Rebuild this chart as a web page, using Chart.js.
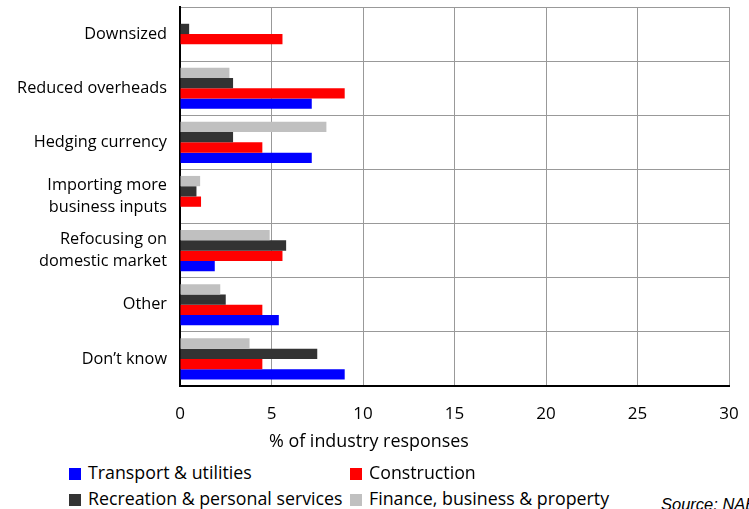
<!DOCTYPE html>
<html>
<head>
<meta charset="utf-8">
<script src="https://cdn.jsdelivr.net/npm/chart.js@4"></script>
<style>
  body { margin: 0; background: #fff; width: 749px; height: 509px; overflow: hidden; position: relative; font-family: "Open Sans", sans-serif; }
  #wrap { position: absolute; left: 0; top: 0; width: 749px; height: 460px; }
  .leg { position: absolute; font-size: 17.8px; color: #000; white-space: nowrap; line-height: 22px; }
  .leg i { display: inline-block; width: 12px; height: 12px; margin-right: 7px; vertical-align: -1px; }
  #xtitle { position: absolute; left: 269px; top: 428px; font-size: 17.9px; line-height: 24px; color: #000; white-space: nowrap; }
  #src { position: absolute; left: 661px; top: 496px; font-family: "Liberation Sans", Arial, sans-serif; font-size: 16.5px; line-height: 16.5px; font-style: italic; color: #000; white-space: nowrap; }
</style>
</head>
<body>
<div id="wrap"><canvas id="chart"></canvas></div>
<div id="xtitle">% of industry responses</div>
<div class="leg" style="left:69px;top:461px"><i style="background:#0000ff"></i>Transport &amp; utilities</div>
<div class="leg" style="left:350px;top:461px"><i style="background:#ff0000"></i>Construction</div>
<div class="leg" style="left:69px;top:487px"><i style="background:#333333"></i>Recreation &amp; personal services</div>
<div class="leg" style="left:350px;top:487px"><i style="background:#c0c0c0"></i>Finance, business &amp; property</div>
<div id="src">Source: NAB</div>
<script>
const categories = [
  'Downsized',
  'Reduced overheads',
  'Hedging currency',
  ['Importing more', 'business inputs'],
  ['Refocusing on', 'domestic market'],
  'Other',
  'Don\u2019t know'
];
const finance = [null, 2.7, 8.0, 1.1, 4.9, 2.2, 3.8];
const recreation = [0.5, 2.9, 2.9, 0.9, 5.8, 2.5, 7.5];
const construction = [5.6, 9.0, 4.5, 1.15, 5.6, 4.5, 4.5];
const transport = [null, 7.2, 7.2, null, 1.9, 5.4, 9.0];
const xTicks = [0, 5, 10, 15, 20, 25, 30];

const ctx = document.getElementById('chart').getContext('2d');
const myChart = new Chart(ctx, {
  type: 'bar',
  data: {
    labels: categories,
    datasets: [
      { label: 'Finance, business & property', data: finance, backgroundColor: '#c0c0c0' },
      { label: 'Recreation & personal services', data: recreation, backgroundColor: '#333333' },
      { label: 'Construction', data: construction, backgroundColor: '#ff0000' },
      { label: 'Transport & utilities', data: transport, backgroundColor: '#0000ff' }
    ]
  },
  options: {
    indexAxis: 'y',
    responsive: true,
    maintainAspectRatio: false,
    animation: false,
    categoryPercentage: 0.76,
    barPercentage: 1,
    layout: { padding: { left: 0, right: 20, top: 7, bottom: 0 } },
    plugins: {
      legend: { display: false },
      tooltip: { enabled: false }
    },
    scales: {
      x: {
        min: 0,
        max: 30,
        afterBuildTicks: (scale) => { scale.ticks = xTicks.map(v => ({ value: v })); },
        afterFit: (scale) => { scale.height = 74; scale.paddingRight = 0; scale.paddingLeft = 0; },
        grid: { color: '#999999', lineWidth: 1, drawTicks: false },
        border: { color: '#000000', width: 2 },
        ticks: { color: '#000', padding: 18, font: { family: 'Open Sans', size: 17 } }
      },
      y: {
        afterFit: (scale) => { scale.width = 180; scale.paddingTop = 0; scale.paddingBottom = 0; },
        grid: { color: '#999999', lineWidth: 1, drawTicks: false, offset: true },
        border: { color: '#000000', width: 2 },
        ticks: { color: '#000', padding: 13, font: { family: 'Open Sans', size: 16.3, lineHeight: 1.35 } }
      }
    }
  }
});
</script>
</body>
</html>
